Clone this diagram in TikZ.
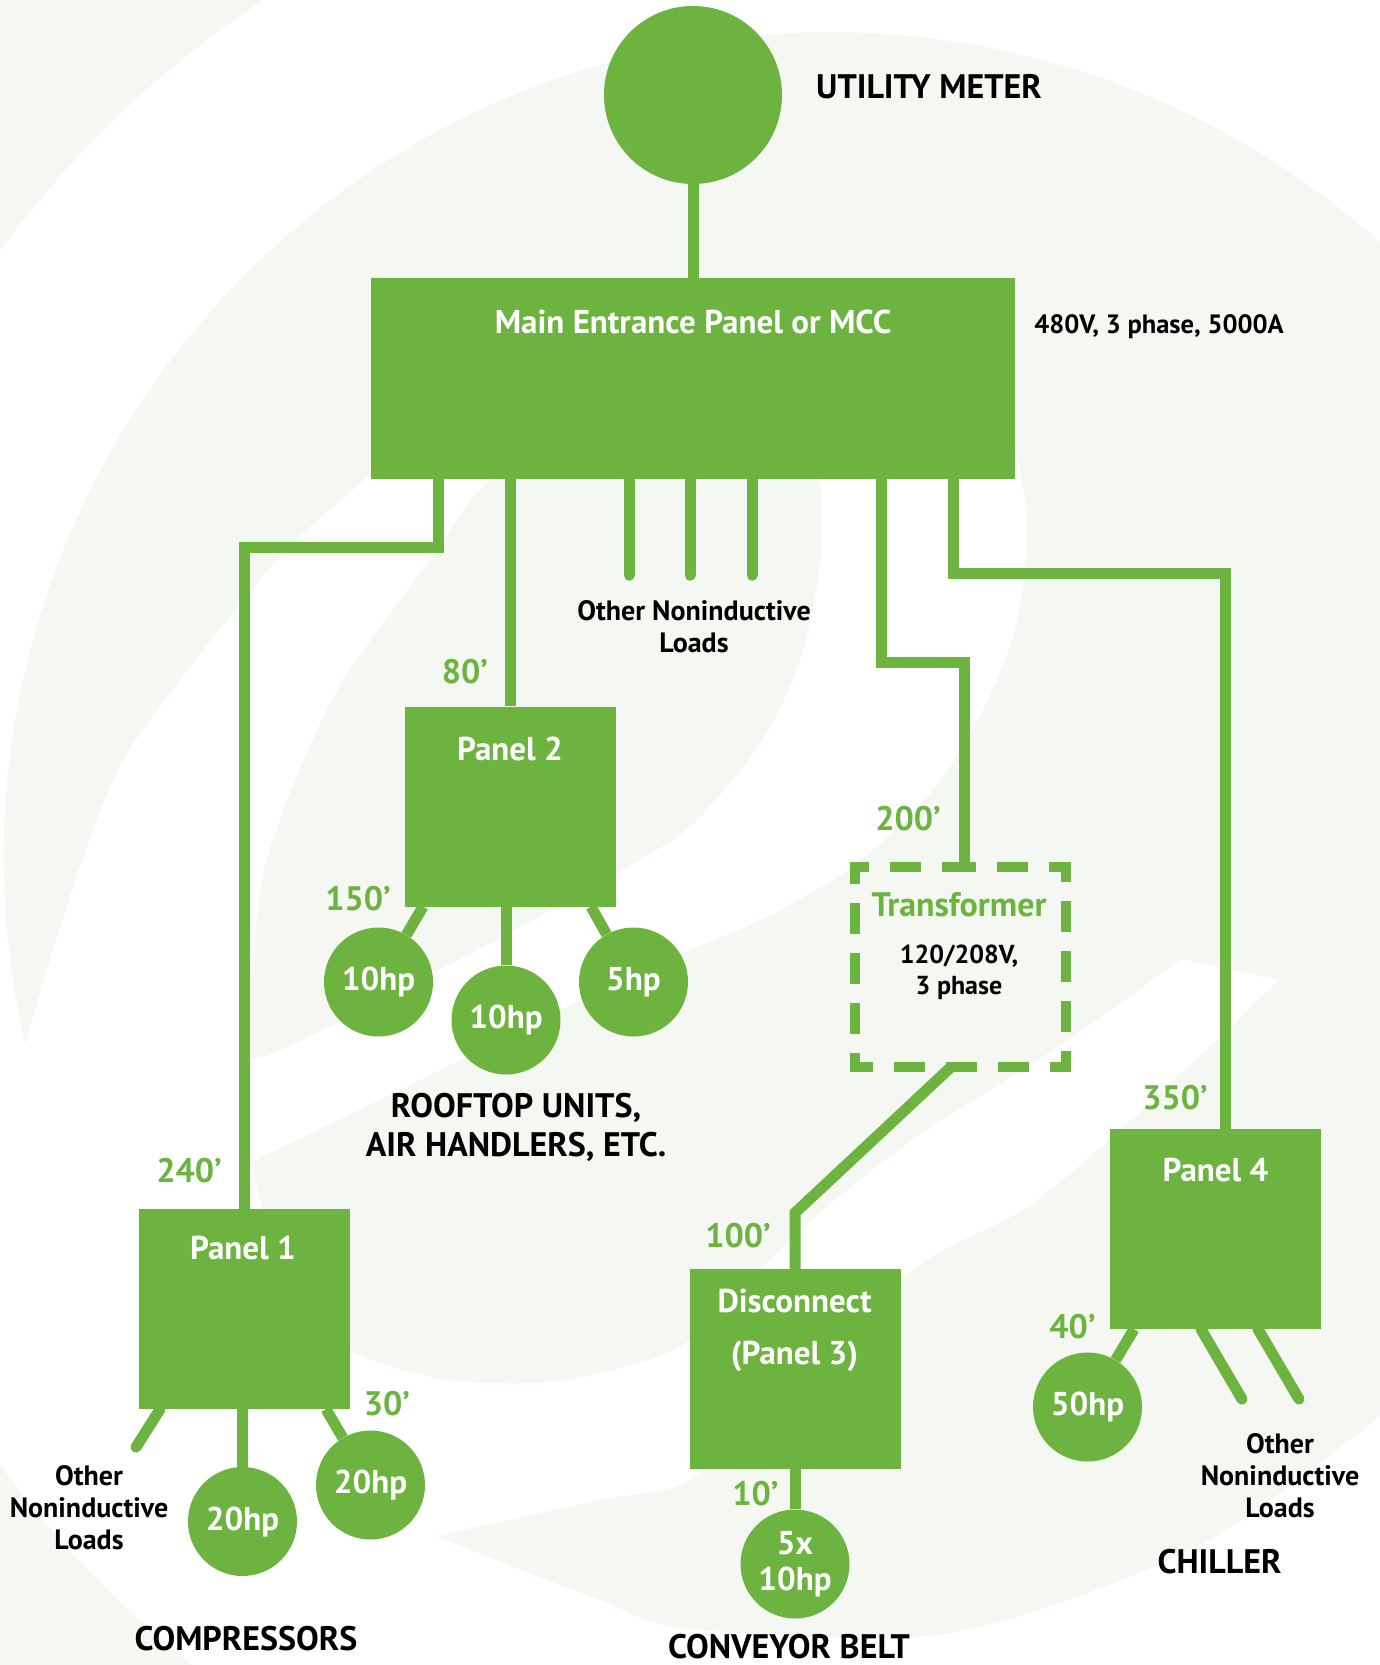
\documentclass[tikz,border=0pt]{standalone}
\usepackage{fontspec}
\setmainfont{PT Sans}
\definecolor{leaf}{HTML}{6DB33F}
\definecolor{mist}{HTML}{F5F8F2}
\tikzset{
  panel/.style={fill=leaf, minimum width=211pt, minimum height=200pt, inner sep=0pt},
  load/.style={circle, fill=leaf, minimum size=109pt, inner sep=0pt, text=white, align=center, font=\bfseries\fontsize{33}{36}\selectfont},
  wire/.style={draw=leaf, line width=11pt},
  stub/.style={wire, line cap=round},
  feet/.style={anchor=base, text=leaf, inner sep=0pt, font=\bfseries\fontsize{34}{38}\selectfont},
  whitetext/.style={anchor=base, text=white, inner sep=0pt, align=center, font=\bfseries\fontsize{33}{38}\selectfont},
  caption/.style={anchor=base, inner sep=0pt, align=center, font=\bfseries\fontsize{34}{38.5}\selectfont},
  note/.style={anchor=base, inner sep=0pt, align=center, font=\bfseries\fontsize{28}{32}\selectfont},
  dashbox/.style={draw=leaf, line width=10pt, dash pattern=on 31pt off 21pt on 31pt off 21pt on 32pt off 19pt on 31pt off 19pt on 31pt off 19pt on 31pt off 19pt on 32pt off 21pt on 31pt off 21pt on 31pt off 21pt on 31pt off 21pt on 32pt off 19pt on 31pt off 19pt on 31pt off 19pt on 31pt off 19pt on 32pt off 21pt on 31pt off 21pt}
}
\begin{document}
\begin{tikzpicture}[x=1pt, y=-1pt]
\useasboundingbox (0, 0) rectangle (1380, 1665);

% background swirl
\fill [mist] (0, 0) rectangle (1380, 1665);
\fill [white] (830, 858) circle (1028);
\fill [mist] (25, 1044) arc [start angle=167, end angle=318, radius=826]
  -- (1420, 700) -- (1420, 1380)
  -- plot [smooth] coordinates {(1380, 1416) (1200, 1545) (950, 1633) (690, 1629) (600, 1600) (436, 1536)}
  -- plot [smooth] coordinates {(436, 1536) (600, 1500) (690, 1480) (800, 1380) (920, 1265) (1032, 1204) (1153, 1100) (1279, 980)}
  -- plot [smooth] coordinates {(1182, 959) (1056, 1048) (911, 1141) (800, 1230) (690, 1340) (600, 1373) (533, 1383) (436, 1378) (339, 1344) (280, 1270) (252, 1162)}
  -- plot [smooth] coordinates {(252, 1162) (400, 1090) (520, 1030) (620, 980) (668, 959) (765, 918) (853, 866) (935, 788) (988, 700) (1017, 621) (1027, 523) (1005, 420) (940, 350) (820, 320) (680, 318) (540, 345) (430, 410) (374, 471) (277, 560) (133, 744) (83, 858) (50, 960) (25, 1044)}
  -- cycle;
\fill [mist] plot [smooth cycle] coordinates {(240, 1030) (252, 973) (267, 858) (333, 698) (430, 560) (480, 490) (560, 430) (700, 410) (800, 440) (819, 481) (821, 554) (804, 647) (765, 736) (693, 824) (620, 871) (520, 927) (400, 990) (260, 1058)};

% meter and panels
\node [circle, fill=leaf, minimum size=178pt, inner sep=0pt] (meter) at (693, 95) {};
\node [panel, minimum width=644pt, minimum height=201pt] (main) at (693, 378.5) {};
\node [panel] (p2) at (510, 806.5) {};
\node [panel] (p1) at (244.5, 1309) {};
\node [panel] (p3) at (795, 1369) {};
\node [panel] (p4) at (1215.5, 1229) {};
\node [minimum width=210pt, minimum height=200.5pt, inner sep=0pt] (tr) at (960.5, 967) {};

\node [load] (rtu1) at (378.5, 982) {10hp};
\node [load] (rtu2) at (506, 1020) {10hp};
\node [load] (rtu3) at (633.5, 982) {5hp};
\node [load] (comp1) at (242.5, 1521.5) {20hp};
\node [load] (comp2) at (370.5, 1485) {20hp};
\node [load] (conv) at (795, 1564) {5x\\10hp};
\node [load] (chill) at (1087.5, 1407) {50hp};

% feeders
\draw [wire] (meter) -- (main);
\draw [wire] ([xshift=-255pt]main.south) -- ++(0, 68) -| (p1.north);
\draw [wire] (p2.north |- main.south) -- (p2.north);
\draw [stub] ([xshift=-64pt]main.south) -- ++(0, 96);
\draw [stub] ([xshift=-3pt]main.south) -- ++(0, 96);
\draw [stub] ([xshift=59pt]main.south) -- ++(0, 96);
\draw [wire] ([xshift=188pt]main.south) -- ++(0, 183) -| ([xshift=3.5pt]tr.north);
\draw [wire] ([xshift=260pt]main.south) -- ++(0, 94) -| ([xshift=9.5pt]p4.north);
\draw [wire] ([xshift=-10pt]tr.south) -- ([yshift=56pt]p3.north) -- (p3.north);
\draw [dashbox] ([xshift=-15.5pt]tr.north) -- (tr.north east) -- (tr.south east) -- (tr.south west) -- (tr.north west) -- cycle;

% branch circuits
\draw [wire] ([xshift=-87pt]p2.south) -- (rtu1);
\draw [wire] (p2.south -| rtu2) -- (rtu2);
\draw [wire] ([xshift=81pt]p2.south) -- (rtu3);
\draw [stub] ([xshift=-84.5pt]p1.south) -- ++(-24, 38);
\draw [wire] (p1.south -| comp1) -- (comp1);
\draw [wire] ([xshift=81.5pt]p1.south) -- (comp2);
\draw [wire] (p3.south -| conv) -- (conv);
\draw [wire] ([xshift=-81.5pt]p4.south) -- (chill);
\draw [stub] ([xshift=-14.5pt]p4.south) -- ++(41, 70);
\draw [stub] ([xshift=42.5pt]p4.south) -- ++(41, 70);

% texts
\node [caption] (metertext) at (929, 98) {UTILITY METER};
\node [whitetext] (maintext) at (693, 333) {Main Entrance Panel or MCC};
\node [note, font=\bfseries\fontsize{26.5}{32}\selectfont] (rating) at (1159, 333) {480V, 3 phase, 5000A};
\node [note] (othermid) at (694, 652) {Other Noninductive\\Loads};
\node [feet] (d80) at (465, 683) {80’};
\node [whitetext] (p2text) at (510, 760) {Panel 2};
\node [feet] (d150) at (358, 910) {150’};
\node [caption] (rtutext) at (516, 1156) {ROOFTOP UNITS,\\AIR HANDLERS, ETC.};
\node [feet] (d200) at (908, 830) {200’};
\node [feet] (trtext) at (959, 916) {Transformer};
\node [note, font=\bfseries\fontsize{26}{31}\selectfont] (trnote) at (959, 994) {120/208V,\\3 phase};
\node [feet] (d350) at (1175, 1109.5) {350’};
\node [whitetext] (p4text) at (1215.5, 1181.5) {Panel 4};
\node [feet] (d240) at (189, 1182.5) {240’};
\node [whitetext] (p1text) at (243, 1259) {Panel 1};
\node [feet] (d30) at (387, 1415) {30’};
\node [note] (otherleft) at (89, 1549) {Other\\Noninductive\\Loads};
\node [caption] (comptext) at (246, 1650) {COMPRESSORS};
\node [feet] (d100) at (738, 1247) {100’};
\node [whitetext] (p3text) at (794.5, 1364) {Disconnect\\[14pt](Panel 3)};
\node [feet] (d10) at (755.5, 1505) {10’};
\node [feet] (d40) at (1072.5, 1338.5) {40’};
\node [note] (otherright) at (1280, 1517) {Other\\Noninductive\\Loads};
\node [caption] (chilltext) at (1219.5, 1573) {CHILLER};
\node [caption] (convtext) at (789, 1658) {CONVEYOR BELT};
\end{tikzpicture}
\end{document}
